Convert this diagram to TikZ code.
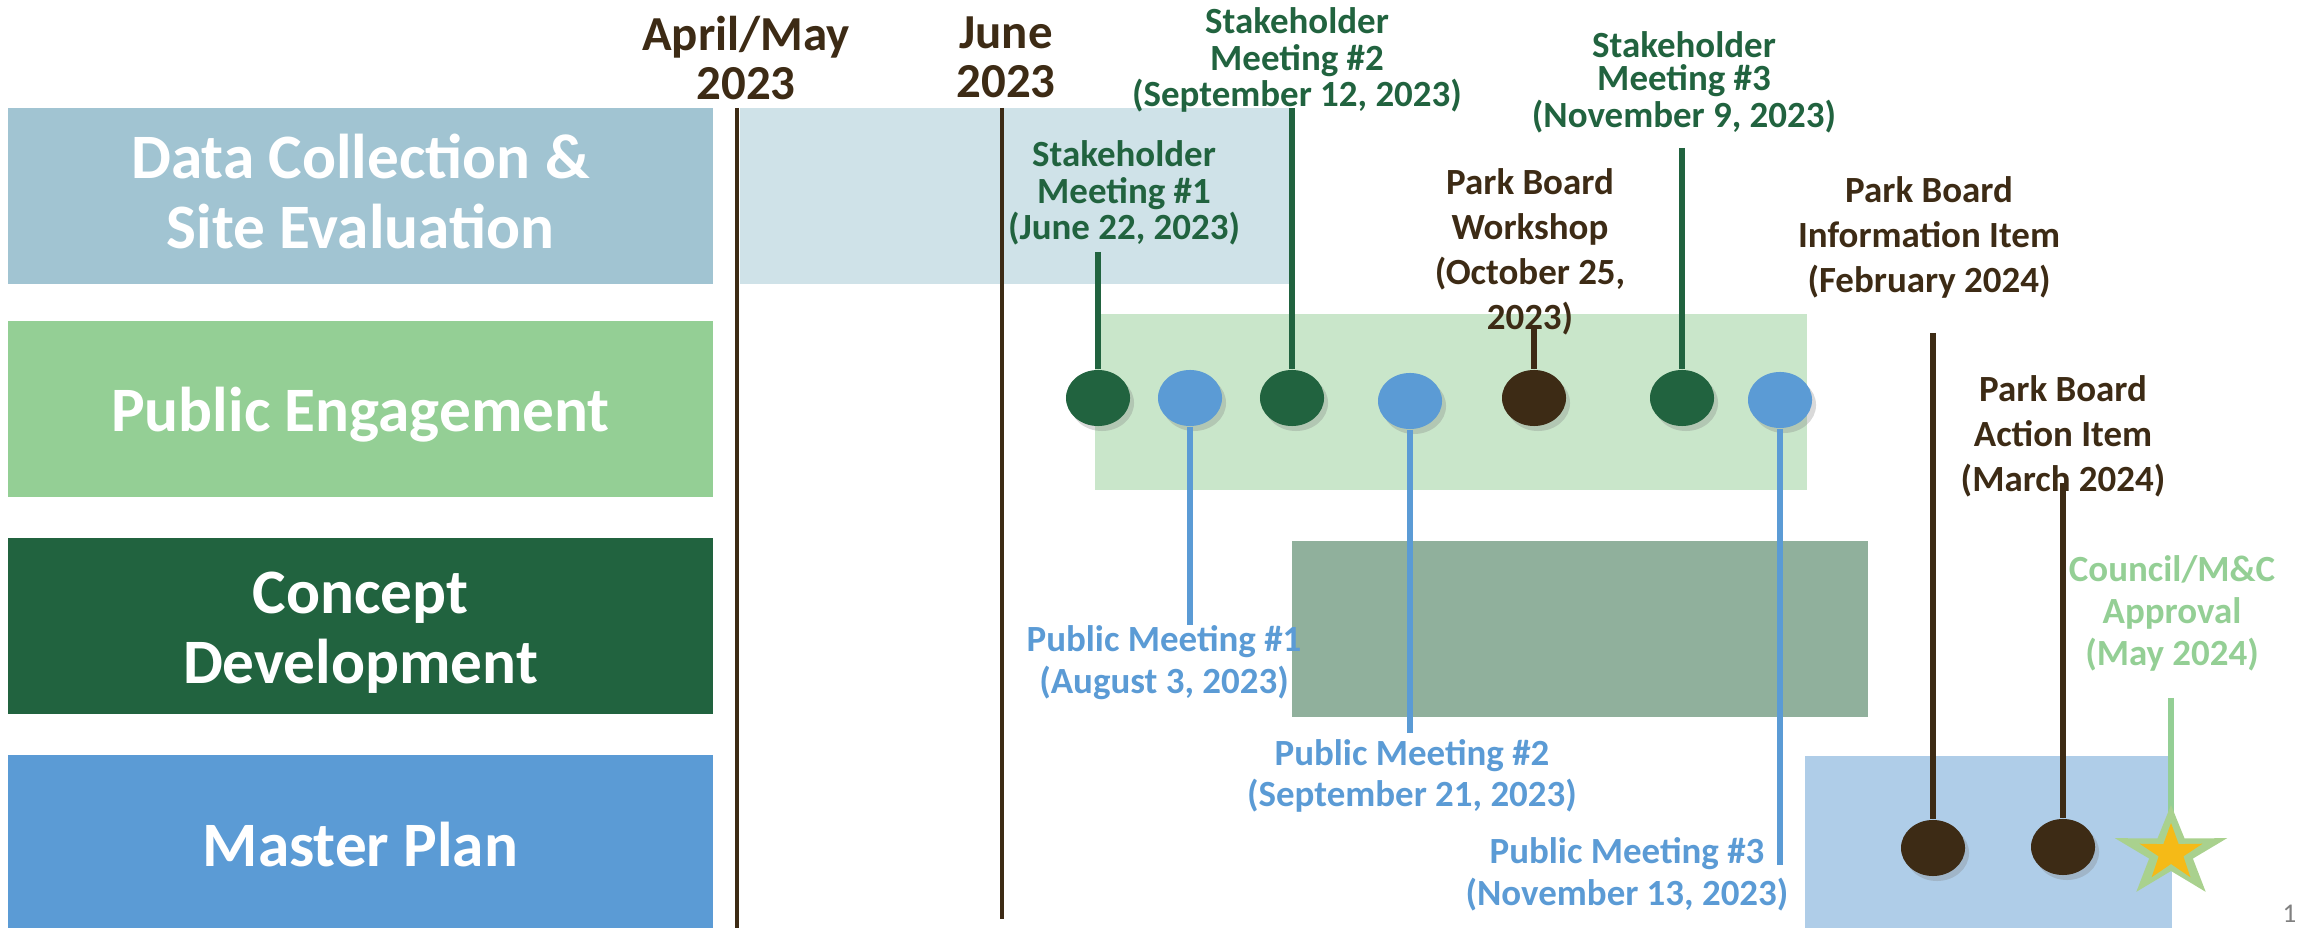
\documentclass[tikz,border=0pt]{standalone}
\usepackage{fontspec}
\setmainfont{Carlito}
\usetikzlibrary{shapes.geometric,shadows}

\definecolor{barkbrown}{HTML}{3D2B15}
\definecolor{stakegreen}{HTML}{21633F}
\definecolor{pubblue}{HTML}{5B9BD5}
\definecolor{litegreen}{HTML}{94CF95}
\definecolor{datablue}{HTML}{A1C4D2}
\definecolor{datalite}{HTML}{CFE2E8}
\definecolor{engagelite}{HTML}{C9E6CA}
\definecolor{conceptlite}{HTML}{90B09C}
\definecolor{masterlite}{HTML}{AFCDE8}
\definecolor{starout}{HTML}{A9D18E}
\definecolor{staryellow}{HTML}{F5BA17}

\newcommand{\stakefont}{\bfseries\fontsize{10.5}{10.5}\selectfont}
\newcommand{\boardfont}{\bfseries\fontsize{10.5}{12.8}\selectfont}
\newcommand{\publicfont}{\bfseries\fontsize{10.5}{11.7}\selectfont}

\tikzset{
  rowlabel/.style={fill=#1, text=white, minimum width=7.05cm, minimum height=1.76cm,
    inner sep=0pt, text depth=0pt, align=center, font=\bfseries\fontsize{18}{19.9}\selectfont},
  datehead/.style={text=barkbrown, align=center, inner sep=0pt, anchor=base,
    font=\bfseries\fontsize{13.9}{14.2}\selectfont},
  event/.style={text=#1, align=center, inner sep=0pt, anchor=base},
  dot/.style={ellipse, fill=#1, minimum width=0.64cm, minimum height=0.56cm, inner sep=0pt,
    drop shadow={opacity=0.3, shadow xshift=0.04cm, shadow yshift=-0.05cm}},
  stem/.style={draw=#1, line width=1.6pt},
  monthline/.style={draw=barkbrown, line width=1.3pt}
}

\begin{document}
\begin{tikzpicture}[x=0.01cm, y=-0.01cm]
            \useasboundingbox (0,0) rectangle (2303,928);
            % phase rows
            \node[rowlabel=datablue, text height=1.04cm] (datarow) at (360.5,196) {Data Collection \&\\Site Evaluation};
            \node[rowlabel=litegreen, text height=0.44cm] (engagerow) at (360.5,409) {Public Engagement};
            \node[rowlabel=stakegreen, text height=1.14cm] (conceptrow) at (360.5,626) {Concept\\Development};
            \node[rowlabel=pubblue, text height=0.49cm, minimum height=1.73cm] (masterrow) at (360.5,841.5) {Master Plan};
            % phase bars
            \fill[datalite] (740,108) rectangle (1289,284);
            \fill[engagelite] (1095,314) rectangle (1807,490);
            \fill[conceptlite] (1292,541) rectangle (1868,717);
            \fill[masterlite] (1805,756) rectangle (2172,928);
            % month marks
            \node[datehead] (amlbl) at (746,100) {April/May\\2023};
            \node[datehead] (junelbl) at (1006,98) {June\\2023};
            \coordinate (amtop) at (737,108);
            \coordinate (ambot) at (737,928);
            \coordinate (junetop) at (1002,108);
            \coordinate (junebot) at (1002,919);
            \draw[monthline] (amtop) -- (ambot);
            \draw[monthline] (junetop) -- (junebot);
            % labels
            \node[event=stakegreen, font=\stakefont] (sm1lbl) at (1124,240) {Stakeholder\\Meeting \#1\\(June 22, 2023)};
            \node[event=stakegreen, font=\stakefont] (sm2lbl) at (1297,107) {Stakeholder\\Meeting \#2\\(September 12, 2023)};
            \node[event=stakegreen, font=\bfseries\fontsize{10.5}{9.5}\selectfont] (sm3lbl) at (1684,128) {Stakeholder\\Meeting \#3\\(November 9, 2023)};
            \node[event=barkbrown, font=\boardfont] (pbwlbl) at (1530,330) {Park Board\\Workshop\\(October 25,\\2023)};
            \node[event=barkbrown, font=\boardfont] (pbilbl) at (1929,293) {Park Board\\Information Item\\(February 2024)};
            \node[event=barkbrown, font=\boardfont] (pbalbl) at (2063,492) {Park Board\\Action Item\\(March 2024)};
            \node[event=pubblue, font=\publicfont] (pm1lbl) at (1164,693) {Public Meeting \#1\\(August 3, 2023)};
            \node[event=pubblue, font=\publicfont] (pm2lbl) at (1412,807) {Public Meeting \#2\\(September 21, 2023)};
            \node[event=pubblue, font=\publicfont] (pm3lbl) at (1627,905) {Public Meeting \#3\\(November 13, 2023)};
            \node[event=litegreen, font=\bfseries\fontsize{10.5}{12}\selectfont] (cmlbl) at (2172,666) {Council/M\&C\\Approval\\(May 2024)};
            \node[anchor=base west, inner sep=0pt, text=gray, font=\fontsize{7.7}{8}\selectfont] (pagenum) at (2282,922) {1};
            % stem ends
            \coordinate (sm1top) at (1098,252);
            \coordinate (sm2top) at (1292,108);
            \coordinate (sm3top) at (1682,148);
            \coordinate (pbwtop) at (1534,325);
            \coordinate (pbitop) at (1933,333);
            \coordinate (pbatop) at (2063,483);
            \coordinate (cmtop) at (2171,698);
            \coordinate (pm1bot) at (1190,625);
            \coordinate (pm2bot) at (1410,733);
            \coordinate (pm3bot) at (1780,865);
            \coordinate (star) at (2171,853);
            % dots
            \node[dot=stakegreen] (sm1) at (1098,398) {};
            \node[dot=pubblue] (pm1) at (1190,398) {};
            \node[dot=stakegreen] (sm2) at (1292,398) {};
            \node[dot=pubblue] (pm2) at (1410,401) {};
            \node[dot=barkbrown] (pbw) at (1534,398) {};
            \node[dot=stakegreen] (sm3) at (1682,398) {};
            \node[dot=pubblue] (pm3) at (1780,400) {};
            \node[dot=barkbrown] (pbi) at (1933,848) {};
            \node[dot=barkbrown] (pba) at (2063,847) {};
            % stems
            \draw[stem=stakegreen] (sm1top) -- (sm1);
            \draw[stem=stakegreen] (sm2top) -- (sm2);
            \draw[stem=stakegreen] (sm3top) -- (sm3);
            \draw[stem=barkbrown] (pbwtop) -- (pbw);
            \draw[stem=barkbrown] (pbitop) -- (pbi);
            \draw[stem=barkbrown] (pbatop) -- (pba);
            \draw[stem=pubblue] (pm1) -- (pm1bot);
            \draw[stem=pubblue] (pm2) -- (pm2bot);
            \draw[stem=pubblue] (pm3) -- (pm3bot);
            \draw[stem=litegreen] (cmtop) -- (star);
            % approval star
            \fill[starout, shift={(star)}] (0,-48)
              foreach \a/\rx/\ry in {-54/23/18, -18/59/48, 18/23/18, 54/59/48, 90/23/18,
                126/59/48, 162/23/18, 198/59/48, 234/23/18} {-- ({\rx*cos(\a)},{\ry*sin(\a)})} -- cycle;
            \fill[staryellow, shift={(star)}] (0,-30)
              foreach \a/\rx/\ry in {-54/13/11, -18/33/30, 18/13/11, 54/33/30, 90/13/11,
                126/33/30, 162/13/11, 198/33/30, 234/13/11} {-- ({\rx*cos(\a)},{\ry*sin(\a)})} -- cycle;
\end{tikzpicture}
\end{document}
